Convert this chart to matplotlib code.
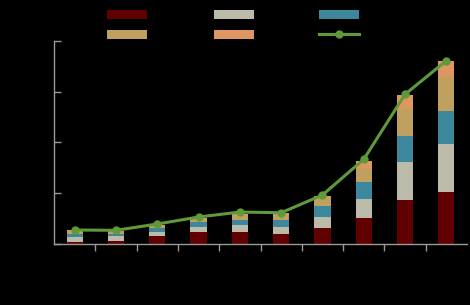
import matplotlib
matplotlib.use('Agg')
import matplotlib.pyplot as plt
import numpy as np

categories = ['2014', '2015', '2016', '2017', '2018', '2019', '2020', '2021', '2022', '2023']
seg_red = [2.0, 3.0, 7.9, 11.8, 11.8, 9.9, 15.8, 25.6, 43.3, 51.2]
seg_gray = [4.9, 5.2, 3.9, 4.9, 6.9, 6.9, 10.8, 18.7, 37.4, 47.3]
seg_teal = [3.0, 2.0, 3.9, 4.9, 4.9, 6.9, 10.8, 16.7, 25.6, 32.5]
seg_tan = [2.9, 2.5, 2.5, 3.4, 5.4, 5.9, 8.6, 14.1, 26.6, 33.5]
seg_orange = [1.0, 0.5, 0.5, 1.0, 1.0, 1.0, 1.3, 6.6, 13.8, 15.8]
total = [13.8, 13.5, 19.7, 26.6, 31.5, 30.8, 48.3, 83.4, 147.5, 180.6]

series = [('Segment A', seg_red, '#600000'),
          ('Segment B', seg_gray, '#bcbaa8'),
          ('Segment C', seg_teal, '#3c879c'),
          ('Segment D', seg_tan, '#bfa05e'),
          ('Segment E', seg_orange, '#df9660')]

fig = plt.figure(figsize=(4.7, 3.05), dpi=100, facecolor='black')
ax = fig.add_axes([54/470, 61/305, 413/470, 203/305])
ax.set_facecolor('black')

x = np.arange(len(categories))
bottom = np.zeros(len(categories))
bars = []
for name, vals, col in series:
    b = ax.bar(x, vals, width=0.39, bottom=bottom, color=col, label=name)
    bars.append(b)
    bottom += np.array(vals)

line, = ax.plot(x, total, color='#5f9a3a', lw=2.2, marker='o', ms=5, label='Total')

ax.set_xlim(-0.5, len(categories) - 0.5)
ax.set_ylim(0, 200)
ax.set_yticks([0, 50, 100, 150, 200])
ax.set_xticks(x)
ax.set_xticklabels(categories, color='black', fontsize=8)
ax.set_xticks(np.arange(0.5, len(categories) - 1, 1), minor=True)
ax.tick_params(axis='x', which='major', length=0)
ax.tick_params(axis='x', which='minor', length=5, color='#999999', width=1)
ax.tick_params(axis='y', direction='in', length=5, color='#999999', width=1, labelcolor='black', labelsize=8)

for side in ['top', 'right']:
    ax.spines[side].set_visible(False)
for side in ['left', 'bottom']:
    ax.spines[side].set_color('#999999')
    ax.spines[side].set_linewidth(1)

# legend fills column by column, so reorder to read row by row
handles = [bars[0], bars[3], bars[1], bars[4], bars[2], line]
labels = [series[0][0], series[3][0], series[1][0], series[4][0], series[2][0], 'Total']
fig.legend(handles, labels, ncol=3, loc='upper left', bbox_to_anchor=(107/470, 1 - 10/305),
           frameon=False, fontsize=8, labelcolor='black', handlelength=3.6, handleheight=0.8,
           handletextpad=0.33, columnspacing=0.05, labelspacing=0.9, borderpad=0, borderaxespad=0)

fig.savefig('out.png', dpi=100, facecolor='black')
